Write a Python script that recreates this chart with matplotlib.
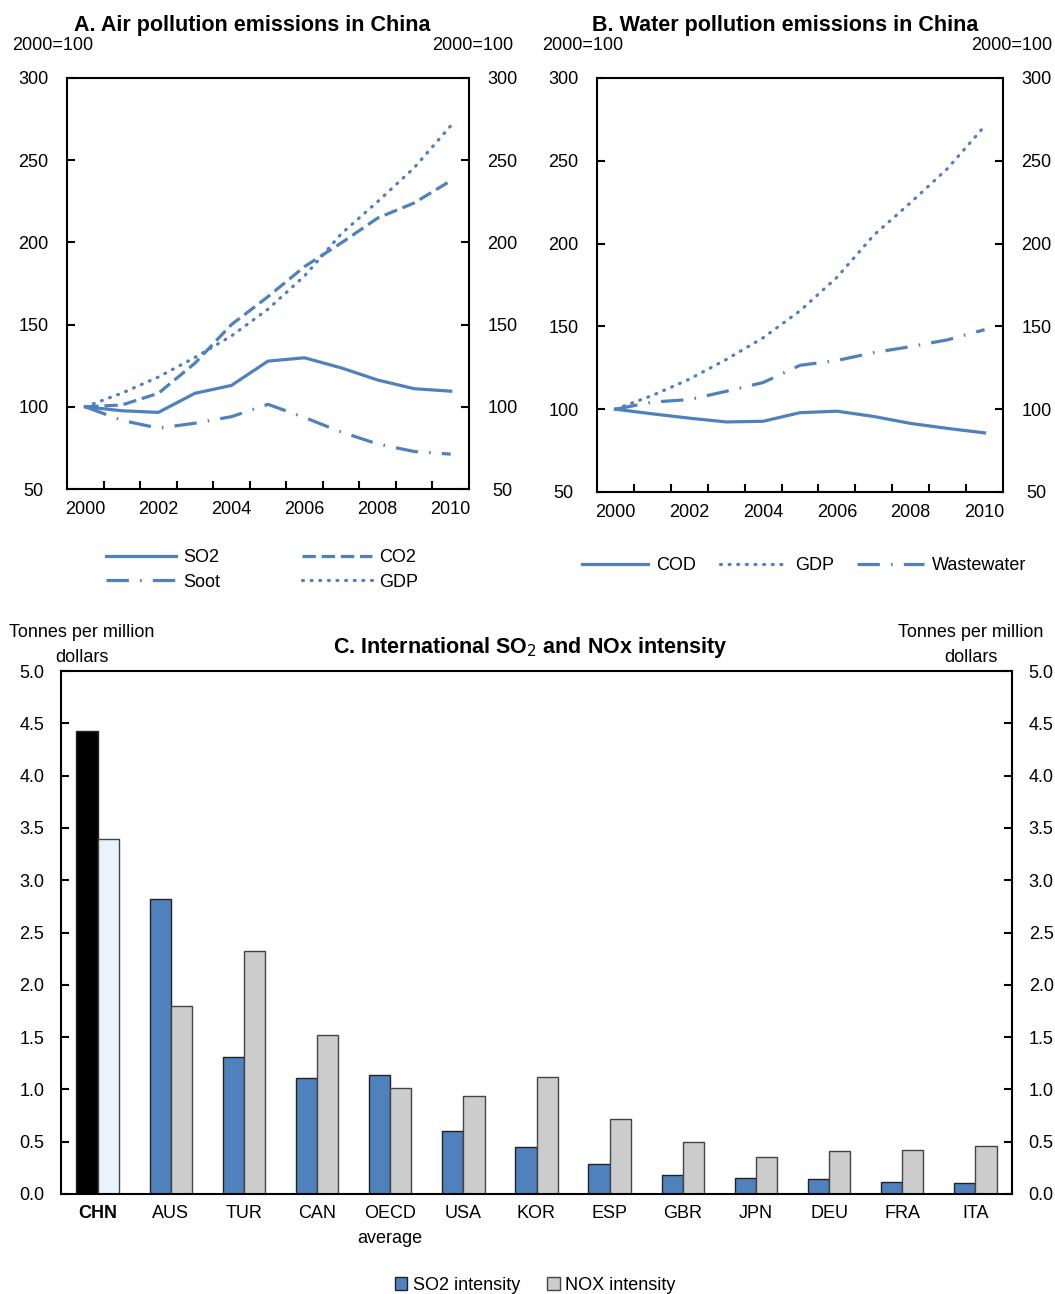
"""
China pollution emissions + international SO2 / NOx intensity
Three panels: A (air, index), B (water, index), C (bars by country).
"""

import matplotlib
matplotlib.use("Agg")
import matplotlib.pyplot as plt
from matplotlib.ticker import MultipleLocator, FixedLocator
from matplotlib.patches import Patch

# ─── Font ─────────────────────────────────────────────────────────────────────
plt.rcParams["font.family"] = ["Liberation Sans", "DejaVu Sans"]
plt.rcParams["font.size"] = 13

# ─── Data ─────────────────────────────────────────────────────────────────────
YEARS = [2000, 2001, 2002, 2003, 2004, 2005, 2006, 2007, 2008, 2009, 2010]

# Panel A (2000=100)
SO2 = [100, 97.6, 96.6, 108.2, 113.0, 127.8, 129.8, 123.7, 116.3, 111.0, 109.5]
CO2 = [100, 101.1, 108.2, 126.5, 150.0, 167.0, 185.3, 199.6, 214.8, 224.0, 237.5]
SOOT = [100, 91.8, 87.0, 90.0, 94.0, 101.5, 93.5, 84.7, 77.4, 72.8, 71.2]
GDP = [100, 108.3, 118.1, 130.0, 143.1, 159.4, 179.6, 205.1, 224.8, 245.4, 270.9]

# Panel B (2000=100)
COD = [100, 97.2, 94.6, 92.3, 92.7, 97.9, 98.8, 95.6, 91.4, 88.4, 85.7]
WASTEWATER = [100, 104.3, 105.8, 110.8, 116.1, 126.5, 129.4, 134.2, 137.8, 141.9, 148.0]

# Panel C (tonnes per million dollars)
COUNTRIES = ["CHN", "AUS", "TUR", "CAN", "OECD\naverage", "USA", "KOR",
             "ESP", "GBR", "JPN", "DEU", "FRA", "ITA"]
SO2_INT = [4.43, 2.82, 1.31, 1.11, 1.14, 0.60, 0.45, 0.29, 0.18, 0.15, 0.14, 0.11, 0.105]
NOX_INT = [3.39, 1.80, 2.32, 1.52, 1.01, 0.94, 1.12, 0.72, 0.50, 0.35, 0.41, 0.42, 0.46]

# ─── Styles ───────────────────────────────────────────────────────────────────
BLUE = "#4F81BD"
GREY = "#CCCCCC"
LW = 2.3
SOLID = "-"
DASHED = (0, (4.2, 1.8))
DASHDOT = (0, (7, 3.5, 0.5, 3.5))
DOTTED = (0, (0.3, 2.4))
TITLE_FS = 15.5

W, H = 1055, 1294
fig = plt.figure(figsize=(W / 100, H / 100), dpi=100)


def px_axes(left, top, right, bottom):
    return fig.add_axes([left / W, 1 - bottom / H, (right - left) / W, (bottom - top) / H])


def style_index_axes(ax):
    x = list(range(len(YEARS)))
    ax.set_xlim(-0.5, len(YEARS) - 0.5)
    ax.set_ylim(50, 300)
    ax.yaxis.set_major_locator(MultipleLocator(50))
    ax.xaxis.set_major_locator(FixedLocator(x[::2]))
    ax.set_xticklabels([str(y) for y in YEARS[::2]])
    ax.xaxis.set_minor_locator(FixedLocator([i + 0.5 for i in x[:-1]]))
    ax.tick_params(axis="x", which="major", length=0, pad=9)
    ax.tick_params(axis="x", which="minor", direction="in", length=6, width=1.5, top=False)
    ax.tick_params(axis="y", direction="in", length=6, width=1.5,
                   left=True, right=True, labelleft=True, labelright=True, pad=24)
    for s in ax.spines.values():
        s.set_linewidth(1.5)
    for lab in ax.get_yticklabels(which="both"):
        lab.set_horizontalalignment("center")


x = list(range(len(YEARS)))

# ─── Panel A ──────────────────────────────────────────────────────────────────
axA = px_axes(67, 78, 469, 489)
hA_so2, = axA.plot(x, SO2, color=BLUE, lw=LW, ls=SOLID, label="SO2")
hA_co2, = axA.plot(x, CO2, color=BLUE, lw=LW, ls=DASHED, label="CO2")
hA_soot, = axA.plot(x, SOOT, color=BLUE, lw=LW, ls=DASHDOT, label="Soot")
hA_gdp, = axA.plot(x, GDP, color=BLUE, lw=LW, ls=DOTTED, dash_capstyle="round", label="GDP")
style_index_axes(axA)
fig.legend(handles=[hA_so2, hA_soot, hA_co2, hA_gdp], ncol=2, frameon=False,
           loc="center", bbox_to_anchor=(262 / W, 1 - 570 / H),
           handlelength=3.9, handletextpad=0.4, columnspacing=4.5, labelspacing=0.4)

# ─── Panel B ──────────────────────────────────────────────────────────────────
axB = px_axes(597, 78, 1003, 492)
hB_cod, = axB.plot(x, COD, color=BLUE, lw=LW, ls=SOLID, label="COD")
hB_gdp, = axB.plot(x, GDP, color=BLUE, lw=LW, ls=DOTTED, dash_capstyle="round", label="GDP")
hB_ww, = axB.plot(x, WASTEWATER, color=BLUE, lw=LW, ls=DASHDOT, label="Wastewater")
style_index_axes(axB)
fig.legend(handles=[hB_cod, hB_gdp, hB_ww], ncol=3, frameon=False,
           loc="center", bbox_to_anchor=(804 / W, 1 - 566 / H),
           handlelength=3.7, handletextpad=0.45, columnspacing=1.3)

# Titles and units for A / B
fig.text(252 / W, 1 - 25 / H, "A. Air pollution emissions in China",
         ha="center", va="center", fontsize=TITLE_FS, fontweight="bold")
fig.text(785 / W, 1 - 25 / H, "B. Water pollution emissions in China",
         ha="center", va="center", fontsize=TITLE_FS, fontweight="bold")
for xl, xr in [(12, 513), (542, 1052)]:
    fig.text(xl / W, 1 - 46 / H, "2000=100", ha="left", va="center")
    fig.text(xr / W, 1 - 46 / H, "2000=100", ha="right", va="center")

# ─── Panel C ──────────────────────────────────────────────────────────────────
axC = px_axes(61, 671, 1012, 1194)
xc = list(range(len(COUNTRIES)))
bw = 0.29
so2_colors = ["black"] + [BLUE] * (len(COUNTRIES) - 1)
nox_colors = ["#EAF2FB"] + [GREY] * (len(COUNTRIES) - 1)
axC.bar([i - bw / 2 for i in xc], SO2_INT, width=bw, color=so2_colors,
        edgecolor="#222222", linewidth=1.0)
axC.bar([i + bw / 2 for i in xc], NOX_INT, width=bw, color=nox_colors,
        edgecolor="#444444", linewidth=1.0)
axC.set_xlim(-0.5, len(COUNTRIES) - 0.5)
axC.set_ylim(0, 5)
axC.yaxis.set_major_locator(MultipleLocator(0.5))
axC.yaxis.set_major_formatter(plt.FormatStrFormatter("%.1f"))
axC.set_xticks(xc)
axC.set_xticklabels(COUNTRIES, linespacing=1.6)
axC.get_xticklabels()[0].set_fontweight("bold")
axC.tick_params(axis="x", length=0, pad=8)
axC.tick_params(axis="y", direction="in", length=6, width=1.5,
                left=True, right=True, labelleft=True, labelright=True, pad=12)
for s in axC.spines.values():
    s.set_linewidth(1.5)

fig.text(530 / W, 1 - 647 / H, "C. International SO$_2$ and NOx intensity",
         ha="center", va="center", fontsize=TITLE_FS, fontweight="bold")
fig.text(82 / W, 1 - 645 / H, "Tonnes per million\ndollars", ha="center", va="center",
         linespacing=1.55)
fig.text(971 / W, 1 - 645 / H, "Tonnes per million\ndollars", ha="center", va="center",
         linespacing=1.55)

leg_handles = [Patch(facecolor=BLUE, edgecolor="#222222", label="SO2 intensity"),
               Patch(facecolor=GREY, edgecolor="#444444", label="NOX intensity")]
fig.legend(handles=leg_handles, ncol=2, frameon=False, loc="center",
           bbox_to_anchor=(535 / W, 1 - 1285 / H), handlelength=0.7, handleheight=0.7,
           handletextpad=0.3, columnspacing=1.5)

fig.savefig("out.png", dpi=100)
